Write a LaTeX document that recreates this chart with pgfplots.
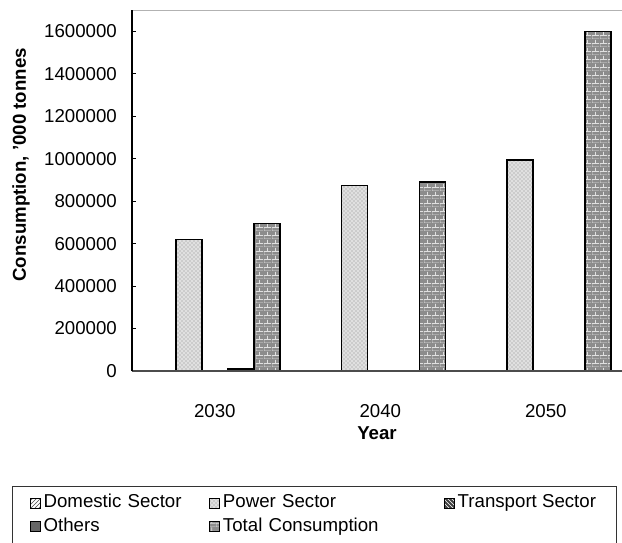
\documentclass[border=0pt]{standalone}
\usepackage{fontspec}
\setmainfont{Liberation Sans}
\usepackage{pgfplots}
\pgfplotsset{compat=1.18}
\usetikzlibrary{patterns}

% small brick pattern for the total bars
\pgfdeclarepatternformonly{smallbricks}{\pgfpointorigin}{\pgfpoint{6pt}{6pt}}{\pgfpoint{6pt}{6pt}}{
  \pgfsetlinewidth{0.7pt}
  \pgfpathmoveto{\pgfpoint{0pt}{0pt}}\pgfpathlineto{\pgfpoint{6pt}{0pt}}
  \pgfpathmoveto{\pgfpoint{0pt}{3pt}}\pgfpathlineto{\pgfpoint{6pt}{3pt}}
  \pgfpathmoveto{\pgfpoint{0pt}{0pt}}\pgfpathlineto{\pgfpoint{0pt}{3pt}}
  \pgfpathmoveto{\pgfpoint{3pt}{3pt}}\pgfpathlineto{\pgfpoint{3pt}{6pt}}
  \pgfusepath{stroke}}

% consumption, '000 tonnes; x: 0=2030, 1=2040, 2=2050
\pgfplotstableread{
x domestic power transport others total
0 0 620000 0 10000 695000
1 0 874000 0 0 891000
2 0 995000 0 0 1598000
}\consdata

\begin{document}
\fontsize{14}{16.8}\selectfont
\begin{tikzpicture}
\begin{axis}[
    at={(0,0)}, anchor=south west,
    scale only axis,
    width=367.5pt, height=270.75pt,
    ybar=0pt,
    bar width=19.5pt,
    xmin=-0.5, xmax=2.46,
    ymin=0, ymax=1700000,
    xtick={0,1,2},
    xticklabels={2030,2040,2050},
    ytick={0,200000,...,1600000},
    scaled y ticks=false,
    /pgf/number format/fixed,
    /pgf/number format/precision=0,
    /pgf/number format/1000 sep={},
    /pgf/number format/assume math mode=true,
    axis on top,
    axis x line*=bottom,
    axis y line*=left,
    axis line style={black, line width=0.8pt},
    x axis line style={black!70},
    xtick style={draw=none},
    ytick style={black, line width=0.6pt},
    tick align=inside,
    major tick length=3pt,
    yticklabel style={xshift=-6.5pt},
    xticklabel style={yshift=-20pt},
    xlabel={\bfseries Year},
    ylabel={\bfseries Consumption, '000 tonnes},
    xlabel style={at={(axis description cs:0.5,0)}, anchor=center, yshift=-46.5pt},
    ylabel style={at={(axis description cs:-0.2265,0.571)}, anchor=center},
    legend columns=3,
    legend cell align=left,
    legend image code/.code={\draw[#1, line width=0.8pt] (0pt,-3.75pt) rectangle (7.5pt,3.75pt);},
    legend style={
        at={(0,0)}, anchor=north west,
        xshift=-90pt, yshift=-86.25pt,
        draw=black!80, line width=0.8pt,
        inner xsep=13pt, inner ysep=4pt,
        column sep=0pt, row sep=0pt,
        nodes={text height=10pt, text depth=3.5pt, inner sep=2pt, line width=0.4pt},
        /tikz/column 2/.style={nodes={text width=122.25pt, align=left}},
        /tikz/column 4/.style={nodes={text width=163.75pt, align=left}},
    },
]
\addplot[draw=black, line width=1.2pt, pattern=north east lines, pattern color=black!70]
    table[x=x, y=domestic] {\consdata};
\addplot[draw=black, line width=1.2pt, fill=black!12,
    postaction={pattern=crosshatch dots, pattern color=black!45}]
    table[x=x, y=power] {\consdata};
\addplot[draw=black, line width=1.2pt, fill=black!75,
    postaction={pattern=north west lines, pattern color=white}]
    table[x=x, y=transport] {\consdata};
\addplot[draw=black, line width=1.2pt, fill=black!60]
    table[x=x, y=others] {\consdata};
\addplot[draw=black, line width=1.2pt, fill=black!45,
    postaction={pattern=smallbricks, pattern color=black!12}]
    table[x=x, y=total] {\consdata};
\legend{Domestic Sector, Power Sector, Transport Sector, Others, Total Consumption}
\draw[gray!60, line width=1.2pt] (rel axis cs:0,1) -- (rel axis cs:1,1);
\end{axis}
\pgfresetboundingbox
\path[use as bounding box] (-99pt,-129pt) rectangle (367.5pt,278.25pt);
\end{tikzpicture}
\end{document}
